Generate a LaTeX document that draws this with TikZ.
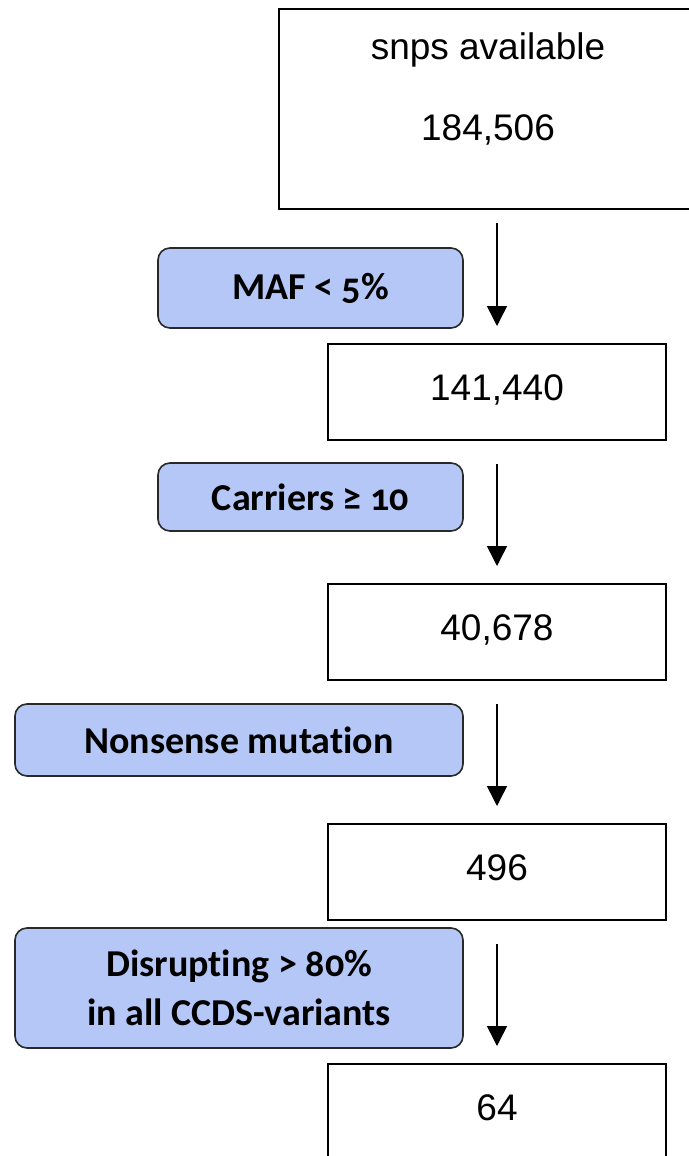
\documentclass[tikz,border=0pt]{standalone}
\usepackage{fontspec}
\setmainfont{Liberation Sans}
\newfontfamily\labelfont[Numbers=OldStyle,Ligatures=NoCommon]{Carlito}
\usetikzlibrary{arrows.meta}
\definecolor{labelfill}{RGB}{180,199,247}
\definecolor{labeldraw}{RGB}{40,40,40}
\begin{document}
\begin{tikzpicture}[x=1pt,y=-1pt,
  numfont/.style={font=\fontsize{37}{44}\selectfont},
  numbox/.style={draw=black, line width=2pt, fill=white, numfont,
    inner sep=0pt, text depth=8pt},
  filterbox/.style={draw=labeldraw, line width=1.6pt, fill=labelfill,
    rounded corners=12pt, align=center, inner sep=0pt,
    font=\labelfont\bfseries\fontsize{38}{49}\selectfont},
  flow/.style={-{Triangle[width=20pt,length=20pt]}, line width=1.5pt}]
\useasboundingbox (0,0) rectangle (688,1156);
% count boxes
\node[numbox, minimum width=414pt, minimum height=200pt] (n0) at (486,109) {};
\node[numfont] (t0a) at (488,50) {snps available};
\node[numfont] (t0b) at (488,130) {184,506};
\node[numbox, minimum width=338pt, minimum height=96pt] (n1) at (497,392) {141,440};
\node[numbox, minimum width=338pt, minimum height=96pt] (n2) at (497,632) {40,678};
\node[numbox, minimum width=338pt, minimum height=96pt] (n3) at (497,872) {496};
\node[numbox, minimum width=338pt, minimum height=96pt] (n4) at (497,1112) {64};
% filter labels
\node[filterbox, minimum width=305pt, minimum height=80pt] (f1) at (310.5,288) {MAF < 5\%};
\node[filterbox, minimum width=305pt, minimum height=68pt] (f2) at (310.5,497) {Carriers ≥ 10};
\node[filterbox, minimum width=448pt, minimum height=72pt] (f3) at (239,740) {Nonsense mutation};
\node[filterbox, minimum width=448pt, minimum height=120pt] (f4) at (239,988) {Disrupting > 80\%\\in all CCDS-variants};
% arrows
\draw[flow, shorten <=13pt, shorten >=17pt] (n0.south -| n1.north) -- (n1.north);
\draw[flow, shorten <=23pt, shorten >=17pt] (n1.south) -- (n2.north);
\draw[flow, shorten <=23pt, shorten >=17pt] (n2.south) -- (n3.north);
\draw[flow, shorten <=23pt, shorten >=17pt] (n3.south) -- (n4.north);
\end{tikzpicture}
\end{document}
